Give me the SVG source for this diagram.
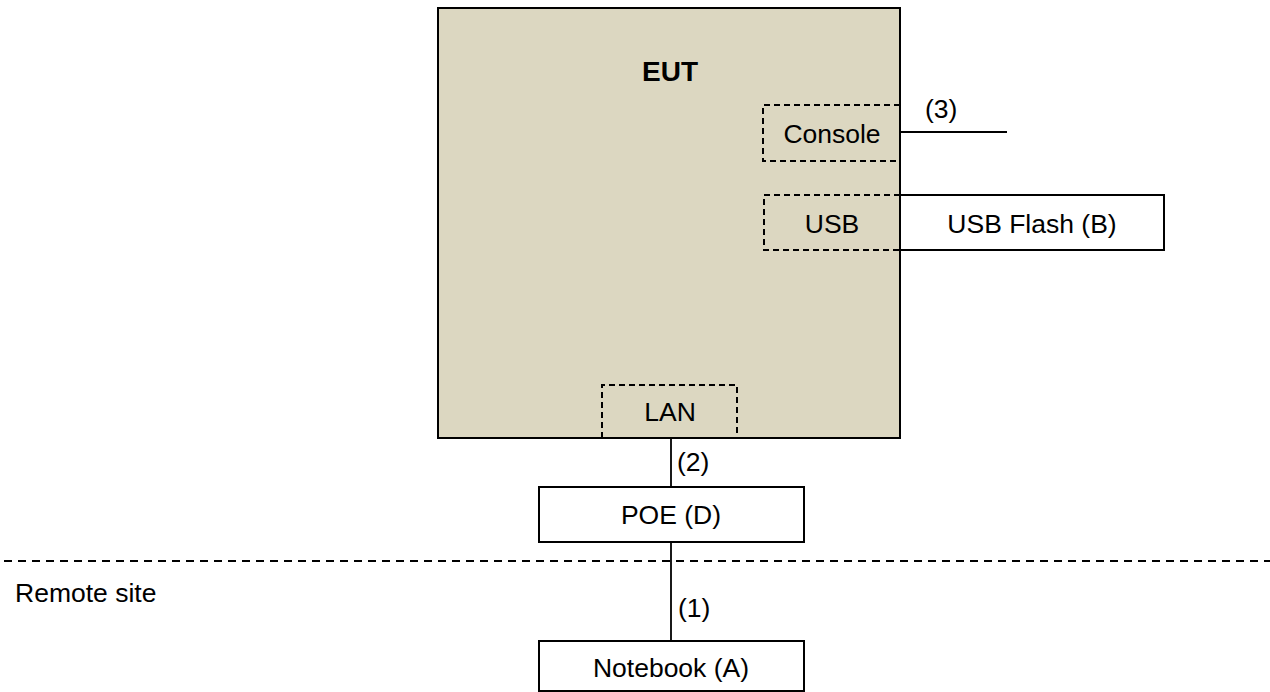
<svg xmlns="http://www.w3.org/2000/svg" width="1270" height="692" viewBox="0 0 1270 692">
<style>
text{font-family:"Liberation Sans",Arial,sans-serif;font-size:26.5px;fill:#000}
.c{text-anchor:middle}
.b{font-weight:bold;font-size:28px}
.box{fill:#fff;stroke:#000;stroke-width:2}
.eut{fill:#DCD7C1;stroke:#000;stroke-width:2}
.dash{fill:none;stroke:#000;stroke-width:2;stroke-dasharray:6,4}
.line{fill:none;stroke:#000;stroke-width:1.8}
.sep{fill:none;stroke:#000;stroke-width:2;stroke-dasharray:8,6}
</style>
<g id="eut">
<rect class="eut" x="438" y="8" width="462" height="430"/>
<text class="c b" x="670" y="81">EUT</text>
</g>
<g id="console">
<path class="dash" d="M900,105 H763 V161 H900"/>
<text class="c" x="832" y="143">Console</text>
</g>
<g id="usb">
<path class="dash" d="M900,195 H764 V250 H900"/>
<text class="c" x="832" y="233">USB</text>
</g>
<g id="lan">
<path class="dash" d="M602,438 V385 H737 V438"/>
<text class="c" x="670" y="421">LAN</text>
</g>
<g id="usbflash">
<rect class="box" x="900" y="195" width="264" height="55"/>
<text class="c" x="1032" y="233">USB Flash (B)</text>
</g>
<g id="poe">
<rect class="box" x="539" y="487" width="265" height="55"/>
<text class="c" x="671" y="524">POE (D)</text>
</g>
<g id="notebook">
<rect class="box" x="539" y="641" width="265" height="50"/>
<text class="c" x="671" y="677">Notebook (A)</text>
</g>
<g id="connectors">
<line class="line" x1="900" y1="132" x2="1007" y2="132"/>
<line class="line" x1="671" y1="438" x2="671" y2="487"/>
<line class="line" x1="671" y1="542" x2="671" y2="641"/>
<text x="925" y="118">(3)</text>
<text x="677" y="471">(2)</text>
<text x="678" y="617">(1)</text>
</g>
<g id="separator">
<line class="sep" x1="4" y1="561" x2="1270" y2="561"/>
<text x="15" y="602">Remote site</text>
</g>
</svg>
